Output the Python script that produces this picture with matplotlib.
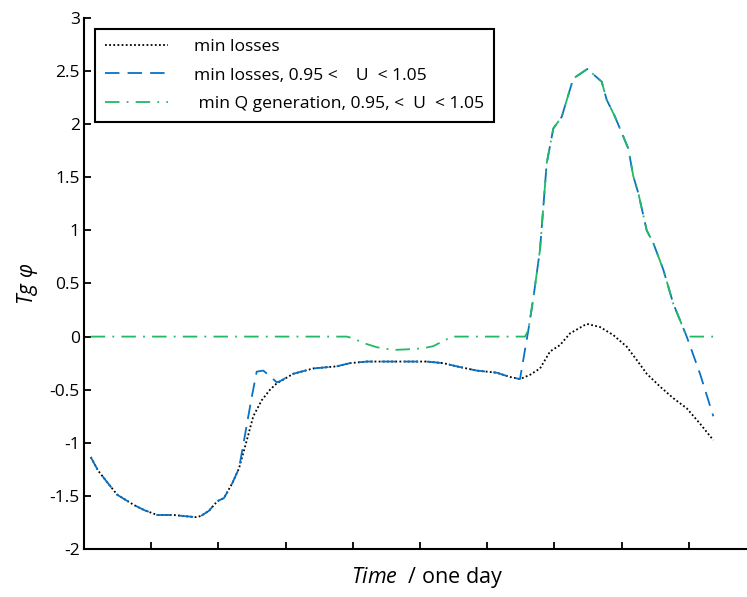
import matplotlib
matplotlib.use("Agg")
import matplotlib.pyplot as plt
from matplotlib.ticker import MultipleLocator, NullFormatter, FuncFormatter

plt.rcParams['font.family'] = ['Open Sans', 'DejaVu Sans']
plt.rcParams['mathtext.fontset'] = 'custom'
plt.rcParams['mathtext.it'] = 'Open Sans:italic'
plt.rcParams['mathtext.rm'] = 'Open Sans'

# ---- data (time in sample steps, tick every 10 steps) ----
t_loss = [1.0, 2.08, 3.38, 4.96, 7.44, 8.93, 10.91, 13.39, 14.88, 16.62, 17.37,
          18.60, 19.84, 20.83, 22.07, 23.07, 24.21, 25.19, 26.44, 27.68, 28.68,
          31.15, 34.12, 37.60, 39.58, 42.07, 51.0, 53.47, 55.46, 58.44, 61.41,
          63.39, 64.88, 66.37, 67.86, 69.35, 70.83, 72.32, 74.81, 76.79, 78.76,
          80.76, 82.25, 83.74, 85.71, 87.69, 89.69, 91.67, 93.65]
tg_loss = [-1.134, -1.26, -1.366, -1.49, -1.586, -1.633, -1.68, -1.68, -1.69, -1.70, -1.69,
           -1.64, -1.55, -1.52, -1.38, -1.24, -0.98, -0.75, -0.60, -0.50, -0.44,
           -0.35, -0.30, -0.28, -0.25, -0.235, -0.235, -0.25, -0.28, -0.32, -0.34,
           -0.38, -0.40, -0.36, -0.30, -0.14, -0.08, 0.03, 0.12, 0.09, 0.015,
           -0.095, -0.22, -0.35, -0.47, -0.58, -0.675, -0.82, -0.975]

t_lossU = [1.0, 2.08, 3.38, 4.96, 7.44, 8.93, 10.91, 13.39, 14.88, 16.62, 17.37,
           18.60, 19.84, 20.83, 22.07, 23.07, 24.96, 25.70, 26.68, 27.43, 28.68,
           29.17, 31.15, 34.12, 37.60, 39.58, 42.07, 51.0, 53.47, 55.46, 58.44,
           61.41, 63.39, 64.88, 66.12, 66.86, 67.86, 68.35, 68.85, 69.84, 71.09,
           72.81, 74.90, 77.04, 77.78, 79.02, 81.0, 81.74, 82.49, 83.74, 84.72,
           86.21, 87.69, 89.69, 91.67, 93.65]
tg_lossU = [-1.134, -1.26, -1.366, -1.49, -1.586, -1.633, -1.68, -1.68, -1.69, -1.70, -1.69,
            -1.64, -1.55, -1.52, -1.38, -1.24, -0.57, -0.33, -0.32, -0.36, -0.43,
            -0.42, -0.35, -0.30, -0.28, -0.25, -0.235, -0.235, -0.25, -0.28, -0.32,
            -0.34, -0.38, -0.40, 0.06, 0.36, 0.82, 1.22, 1.63, 1.96, 2.07,
            2.43, 2.52, 2.40, 2.23, 2.07, 1.77, 1.51, 1.35, 1.00, 0.88,
            0.63, 0.31, 0.0, -0.35, -0.75]

t_qgen = [1.0, 39.09, 40.07, 41.56, 43.56, 46.03, 48.02, 50.49, 51.98, 52.98, 53.97,
          54.72, 65.63, 66.12, 66.86, 67.86, 68.35, 68.85, 69.84, 71.09,
          72.81, 74.90, 77.04, 77.78, 79.02, 81.0, 81.74, 82.49, 83.74, 84.72,
          86.21, 87.69, 89.69, 93.65]
tg_qgen = [0.0, 0.0, -0.016, -0.06, -0.10, -0.126, -0.12, -0.11, -0.09, -0.057, -0.025,
           0.0, 0.0, 0.06, 0.36, 0.82, 1.22, 1.63, 1.96, 2.07,
           2.43, 2.52, 2.40, 2.23, 2.07, 1.77, 1.51, 1.35, 1.00, 0.88,
           0.63, 0.31, 0.0, 0.0]

labels = ['min losses',
          'min losses, 0.95 <    U  < 1.05',
          ' min Q generation, 0.95, <  U  < 1.05']

fig = plt.figure(figsize=(7.47, 5.97), dpi=100)
ax = fig.add_axes([84/747, 1-549/597, 1-84/747, (549-18)/597])

ax.plot(t_loss, tg_loss, color='black', linestyle=(0, (1, 1.3)), linewidth=1.3, label=labels[0])
ax.plot(t_lossU, tg_lossU, color='#0a72c4', linestyle=(0, (8, 4.5)), linewidth=1.3, label=labels[1])
ax.plot(t_qgen, tg_qgen, color='#21b866', linestyle=(0, (8, 4, 1, 4)), linewidth=1.3, label=labels[2])

ax.set_xlim(0, (747-84)/6.72)
ax.set_ylim(-2, 3)
ax.xaxis.set_major_locator(MultipleLocator(10))
ax.xaxis.set_major_formatter(NullFormatter())
ax.yaxis.set_major_locator(MultipleLocator(0.5))
ax.yaxis.set_major_formatter(FuncFormatter(lambda v, p: ('%g' % v)))

for s in ['top', 'right']:
    ax.spines[s].set_visible(False)
for s in ['left', 'bottom']:
    ax.spines[s].set_linewidth(1.5)
ax.tick_params(direction='in', length=5, width=1.3, labelsize=12.5, pad=3)

ax.set_ylabel(r'$Tg\,\,\varphi$', fontsize=15, labelpad=7)
fig.text((84+747)/2/747 + 0.015, 1-578/597, r'$Time$  / one day', fontsize=15.5,
         ha='center', va='center')

leg = ax.legend(loc='upper left', bbox_to_anchor=((95-84)/663, (549-29)/531),
                borderaxespad=0, fontsize=12.6, handlelength=3.6,
                handletextpad=1.5, fancybox=False, framealpha=1,
                edgecolor='black', borderpad=0.55, labelspacing=0.71)
leg.get_frame().set_linewidth(1.5)

fig.savefig('out.png', dpi=100)
